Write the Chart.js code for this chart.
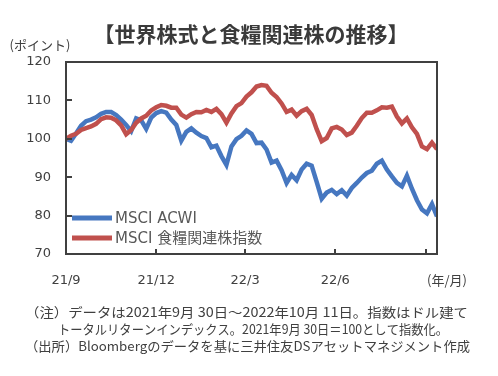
<!DOCTYPE html>
<html>
<head>
<meta charset="utf-8">
<script src="https://cdn.jsdelivr.net/npm/chart.js@4.4.0/dist/chart.umd.min.js"></script>
<style>
  html, body { margin: 0; padding: 0; background: #fff; }
  #wrap { position: relative; width: 498px; height: 376px; }
</style>
</head>
<body>
<div id="wrap"><canvas id="c" width="498" height="376"></canvas></div>
<script>
// ---- data ----
const STEP = 3.5; // trading days between samples
const seriesNames = ['MSCI ACWI', 'MSCI 食糧関連株指数'];
const acwi = [
  100.0, 99.5, 101.4, 103.4, 104.6, 105.0, 105.6, 106.5, 107.0, 107.0,
  106.2, 105.0, 103.6, 102.0, 105.3, 104.8, 102.6, 105.5, 106.7, 107.2,
  106.8, 105.0, 103.6, 99.5, 101.8, 102.7, 101.6, 100.7, 100.2, 97.8,
  98.2, 95.5, 93.2, 98.0, 99.9, 100.8, 102.2, 101.3, 98.9, 99.0,
  97.2, 93.8, 94.3, 91.8, 88.5, 90.6, 89.2, 92.0, 93.5, 93.0,
  88.8, 84.4, 86.0, 86.7, 85.6, 86.6, 85.2, 87.2, 88.5, 89.9,
  91.1, 91.7, 93.5, 94.3, 92.0, 90.2, 88.5, 87.6, 90.4, 87.0,
  84.0, 81.6, 80.6, 83.0, 79.8
];
const food = [
  100.0, 100.8, 101.3, 102.3, 102.8, 103.2, 103.9, 105.1, 105.6, 105.5,
  104.8, 103.5, 101.2, 102.3, 104.2, 105.3, 106.0, 107.4, 108.2, 108.8,
  108.6, 108.1, 108.1, 106.3, 105.5, 106.4, 107.0, 106.9, 107.5, 107.0,
  107.8, 106.4, 104.2, 106.6, 108.5, 109.3, 111.0, 112.1, 113.6, 114.0,
  113.8, 112.0, 110.9, 109.2, 107.0, 107.6, 106.0, 107.2, 107.8, 106.2,
  102.5, 99.4, 100.2, 102.7, 103.1, 102.4, 101.0, 101.6, 103.4, 105.4,
  106.8, 106.8, 107.4, 108.2, 108.1, 108.4, 105.8, 104.0, 105.3, 103.0,
  101.3, 98.0, 97.3, 99.0, 97.3
];
const tickDays = [0, 63, 125, 188, 251];
const tickLabels = ['21/9', '21/12', '22/3', '22/6', ''];
const yMin = 70, yMax = 120, yStep = 10;
const yInnerTicks = [80, 90, 100, 110];

const title = '【世界株式と食糧関連株の推移】';
const yUnit = '(ポイント)';
const xUnit = '(年/月)';
const notes = [
  '（注）データは2021年9月 30日～2022年10月 11日。指数はドル建て',
  'トータルリターンインデックス。2021年9月 30日＝100として指数化。',
  '（出所）Bloombergのデータを基に三井住友DSアセットマネジメント作成'
];

const BLUE = '#4677c0';
const RED = '#c0504d';
const TXT = '#404040';
const FONT = "'DejaVu Sans', 'Noto Sans CJK JP', sans-serif";
const JFONT = "'Noto Sans CJK JP', 'DejaVu Sans', sans-serif";

const toPts = arr => arr.map((v, i) => ({ x: i * STEP, y: v }));
const xMax = (acwi.length - 1) * STEP;

function fitText(ctx, t, x, y, w) {
  const m = ctx.measureText(t).width;
  ctx.save();
  ctx.translate(x, y);
  ctx.scale(w / m, 1);
  ctx.fillText(t, 0, 0);
  ctx.restore();
}

const decor = {
  id: 'decor',
  afterDatasetsDraw(chart) {
    const { ctx, chartArea: a, scales } = chart;
    const xs = scales.x, ys = scales.y;
    ctx.save();
    ctx.strokeStyle = '#404040';
    ctx.lineWidth = 2;
    ctx.strokeRect(a.left, a.top, a.right - a.left, a.bottom - a.top);
    ctx.beginPath();
    yInnerTicks.forEach(v => {
      const y = Math.round(ys.getPixelForValue(v));
      ctx.moveTo(a.left, y); ctx.lineTo(a.left + 6, y);
    });
    tickDays.slice(1).forEach(d => {
      const x = Math.round(xs.getPixelForValue(d));
      ctx.moveTo(x, a.bottom); ctx.lineTo(x, a.bottom - 5);
    });
    ctx.stroke();
    const items = [[seriesNames[0], BLUE], [seriesNames[1], RED]];
    items.forEach((it, i) => {
      const y = 218 + i * 20;
      ctx.strokeStyle = it[1];
      ctx.lineWidth = 5;
      ctx.beginPath(); ctx.moveTo(72, y); ctx.lineTo(112, y); ctx.stroke();
      ctx.fillStyle = '#595959';
      ctx.font = "15px " + FONT;
      ctx.textBaseline = 'middle';
      ctx.textAlign = 'left';
      ctx.fillText(it[0], 115, y + 1);
    });
    ctx.restore();
  },
  afterDraw(chart) {
    const { ctx } = chart;
    ctx.save();
    ctx.fillStyle = '#3a3a3a';
    ctx.textBaseline = 'middle';
    ctx.textAlign = 'center';
    ctx.font = "bold 21px " + JFONT;
    ctx.fillText(title, 251, 34);
    ctx.fillStyle = TXT;
    ctx.font = "13px " + JFONT;
    ctx.fillText(yUnit, 40, 45);
    ctx.fillText(xUnit, 447, 280);
    ctx.textAlign = 'left';
    ctx.font = "13px " + JFONT;
    const nx = [25, 58, 25], ny = [312, 329, 346], nw = [443, 390, 445];
    notes.forEach((t, i) => fitText(ctx, t, nx[i], ny[i], nw[i]));
    ctx.restore();
  }
};

new Chart(document.getElementById('c'), {
  type: 'line',
  data: {
    datasets: [
      { label: seriesNames[1], data: toPts(food), borderColor: RED, borderWidth: 4.5, pointRadius: 0, tension: 0 },
      { label: seriesNames[0], data: toPts(acwi), borderColor: BLUE, borderWidth: 4.5, pointRadius: 0, tension: 0 }
    ]
  },
  options: {
    responsive: false,
    animation: false,
    events: [],
    layout: { padding: { left: 0, top: 62, right: 61, bottom: 0 } },
    plugins: { legend: { display: false }, tooltip: { enabled: false }, title: { display: false } },
    scales: {
      x: {
        type: 'linear', min: 0, max: xMax,
        grid: { display: false, drawTicks: false },
        border: { display: false },
        afterBuildTicks: s => { s.ticks = tickDays.map(v => ({ value: v })); },
        afterFit: s => { s.height = 122; },
        ticks: {
          autoSkip: false, maxRotation: 0, padding: 19, color: TXT,
          font: { family: FONT, size: 13 },
          callback: v => { const i = tickDays.indexOf(v); return i >= 0 ? tickLabels[i] : ''; }
        }
      },
      y: {
        min: yMin, max: yMax,
        grid: { display: false, drawTicks: false },
        border: { display: false },
        afterFit: s => { s.width = 66; },
        ticks: { stepSize: yStep, padding: 15, color: TXT, font: { family: FONT, size: 13 } }
      }
    }
  },
  plugins: [decor]
});
</script>
</body>
</html>
